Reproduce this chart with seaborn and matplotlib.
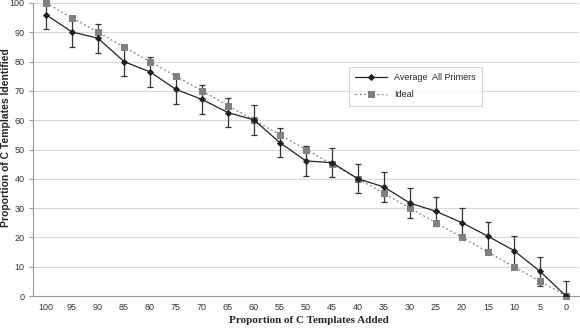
import matplotlib
matplotlib.use("Agg")
import matplotlib.pyplot as plt
import seaborn as sns
import numpy as np
import pandas as pd

added = [100, 95, 90, 85, 80, 75, 70, 65, 60, 55, 50, 45, 40, 35, 30, 25, 20, 15, 10, 5, 0]
average = [96, 90.1, 88, 80, 76.5, 70.5, 67.1, 62.6, 60.1, 52.3, 46.1, 45.5, 40, 37.2, 31.7, 28.9, 25, 20.4, 15.5, 8.4, 0]
err = [5, 5, 5, 5, 5, 5, 5, 5, 5, 5, 5, 5, 5, 5, 5, 5, 5, 5, 5, 5, 5]
ideal = [100, 95, 90, 85, 80, 75, 70, 65, 60, 55, 50, 45, 40, 35, 30, 25, 20, 15, 10, 5, 0]
tick_labels = [str(v) for v in added]

sns.set_style("white")
plt.rcParams['font.family'] = ['Liberation Sans', 'DejaVu Sans']

df = pd.DataFrame({"added": added, "average": average, "ideal": ideal, "err": err})

fig = plt.figure(figsize=(5.8, 3.29), dpi=100)
ax = fig.add_axes([33/580, 1 - 296/329, 546/580, 293/329])

for y in range(10, 101, 10):
    ax.axhline(y, color="#d9d9d9", lw=0.8, zorder=0)

ax.errorbar(df["added"], df["average"], yerr=df["err"], fmt="none",
            ecolor="#333333", elinewidth=0.9, capsize=2.5, capthick=0.9,
            zorder=2)
sns.lineplot(data=df, x="added", y="ideal", ax=ax, color="#808080",
             linestyle=(0, (1.5, 2)), lw=0.9, marker="s", markersize=4.5,
             markeredgecolor="#808080", label="Ideal", zorder=3, clip_on=False)
sns.lineplot(data=df, x="added", y="average", ax=ax, color="#222222",
             lw=0.9, marker="D", markersize=3, markeredgecolor="#222222",
             label="Average  All Primers", zorder=4)

ax.set_xlim(102.5, -2.5)
ax.set_ylim(0, 100)
ax.set_xticks(added)
ax.set_xticklabels(tick_labels)
ax.set_xticks(np.arange(102.5, -3, -5), minor=True)
ax.set_yticks(range(0, 101, 10))
ax.tick_params(axis="x", which="major", length=0, labelsize=6.5, labelcolor="#333333", pad=5)
ax.tick_params(axis="x", which="minor", length=3, color="#999999", direction="out")
ax.tick_params(axis="y", length=3, labelsize=6.5, labelcolor="#333333", color="#999999",
               direction="out", left=True, pad=3)

for s in ["top", "right"]:
    ax.spines[s].set_visible(False)
ax.spines["left"].set_color("#999999")
ax.spines["bottom"].set_color("#999999")
ax.spines["left"].set_linewidth(0.8)
ax.spines["bottom"].set_linewidth(0.8)

ax.set_ylabel("Proportion of C Templates Identified", fontsize=7.5, fontweight="bold",
              family=["Liberation Sans", "DejaVu Sans"])
ax.yaxis.set_label_coords((11 - 33) / 546, 1 - (138 - 3) / 293)
ax.set_xlabel("Proportion of C Templates Added", fontsize=8, fontweight="bold",
              family=["Liberation Serif", "DejaVu Serif"])
ax.xaxis.set_label_coords((309 - 33) / 546, -(316 - 296) / 293)

h, l = ax.get_legend_handles_labels()
leg = ax.legend([h[1], h[0]], [l[1], l[0]], loc="upper left",
                bbox_to_anchor=((349 - 33) / 546, 1 - (67 - 3) / 293),
                borderaxespad=0,
                frameon=True, fancybox=False, fontsize=6.5, borderpad=0.7,
                labelspacing=0.9, handlelength=3.5, edgecolor="#cccccc")
leg.get_frame().set_linewidth(0.8)

fig.savefig("out.png", dpi=100)
